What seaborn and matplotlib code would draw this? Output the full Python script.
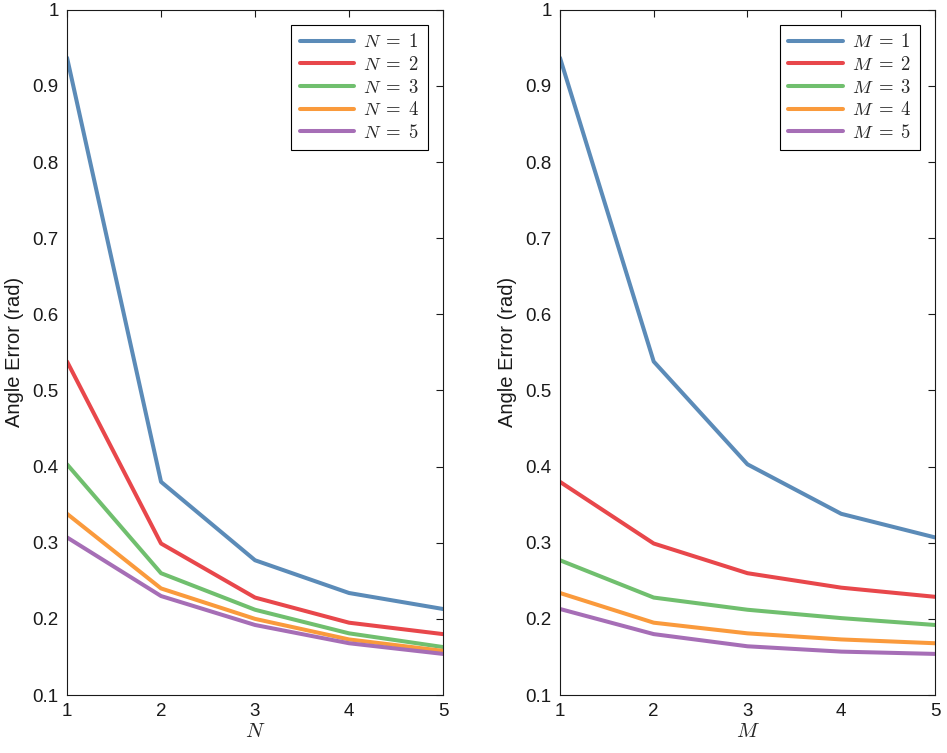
import numpy as np
import pandas as pd
import seaborn as sns
import matplotlib
matplotlib.use("Agg")
import matplotlib.pyplot as plt

# values
x_vals = [1, 2, 3, 4, 5]

left_n1 = [0.937, 0.380, 0.277, 0.234, 0.213]
left_n2 = [0.538, 0.299, 0.228, 0.195, 0.180]
left_n3 = [0.403, 0.260, 0.212, 0.181, 0.163]
left_n4 = [0.338, 0.240, 0.200, 0.173, 0.158]
left_n5 = [0.307, 0.230, 0.192, 0.168, 0.154]

right_m1 = [0.937, 0.538, 0.403, 0.338, 0.307]
right_m2 = [0.380, 0.299, 0.260, 0.241, 0.229]
right_m3 = [0.277, 0.228, 0.212, 0.201, 0.192]
right_m4 = [0.234, 0.195, 0.181, 0.173, 0.168]
right_m5 = [0.213, 0.180, 0.164, 0.157, 0.154]

y_ticks = [0.1, 0.2, 0.3, 0.4, 0.5, 0.6, 0.7, 0.8, 0.9, 1.0]
y_tick_labels = ['0.1', '0.2', '0.3', '0.4', '0.5', '0.6', '0.7', '0.8', '0.9', '1']

colors = ['#5b8bb8', '#e8474b', '#70bf6e', '#fa9a3c', '#a66eb6']

sns.set_theme(style="white")
plt.rcParams['font.family'] = ['Liberation Sans', 'DejaVu Sans']
plt.rcParams['mathtext.fontset'] = 'cm'


def make_df(series, var):
    rows = []
    for i, vals in enumerate(series):
        for xv, yv in zip(x_vals, vals):
            rows.append({'x': xv, 'y': yv,
                         'series': r'$%s\;=\;%d$' % (var, i + 1)})
    return pd.DataFrame(rows)


fig = plt.figure(figsize=(9.47, 7.53), dpi=100)
ax1 = fig.add_axes([0.0708, 0.077, 0.397, 0.910])
ax2 = fig.add_axes([0.5913, 0.077, 0.396, 0.910])

panels = [
    (ax1, make_df([left_n1, left_n2, left_n3, left_n4, left_n5], 'N'), 'N'),
    (ax2, make_df([right_m1, right_m2, right_m3, right_m4, right_m5], 'M'), 'M'),
]

for ax, df, var in panels:
    sns.lineplot(data=df, x='x', y='y', hue='series', palette=colors,
                 linewidth=2.9, ax=ax)
    ax.set_xlim(1, 5)
    ax.set_ylim(0.1, 1.0)
    ax.set_xticks(x_vals)
    ax.set_xticklabels([str(v) for v in x_vals])
    ax.set_yticks(y_ticks)
    ax.set_yticklabels(y_tick_labels)
    ax.tick_params(direction='in', length=5, width=0.8, colors='#1a1a1a',
                   labelsize=13.5, top=True, right=True, pad=6)
    for sp in ax.spines.values():
        sp.set_color('#1a1a1a')
        sp.set_linewidth(0.8)
    ax.set_xlabel('$%s$' % var, fontsize=15, labelpad=1)
    ax.set_ylabel('Angle Error (rad)', fontsize=14.5, labelpad=6, color='#1a1a1a')
    leg = ax.legend(loc='upper right', fontsize=13.5, frameon=True, fancybox=False,
                    edgecolor='black', framealpha=1, handlelength=2.9,
                    handletextpad=0.5, borderaxespad=0.8, labelspacing=0.25,
                    borderpad=0.45)
    leg.get_frame().set_linewidth(0.8)

fig.savefig('out.png', dpi=100)
